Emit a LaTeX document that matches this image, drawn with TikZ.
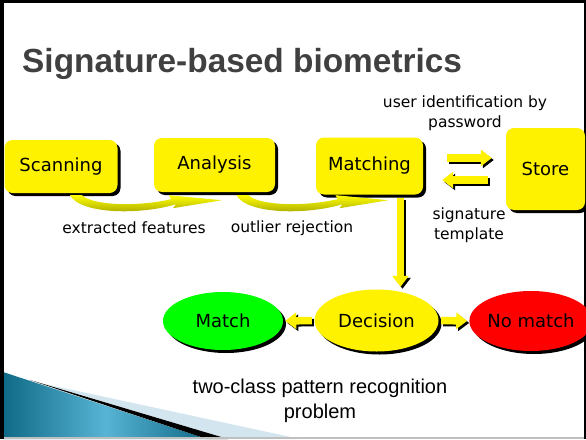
\documentclass[tikz,border=0pt]{standalone}
\usepackage{fontspec}
\setmainfont{DejaVu Sans}
\newfontfamily\arialfont{Liberation Sans}
\usetikzlibrary{calc,shadows,arrows.meta,shapes.geometric}
\definecolor{slidegray}{HTML}{404040}
\definecolor{tealdark}{HTML}{0E6A86}
\definecolor{teallight}{HTML}{58B4D4}
\definecolor{paleblue}{HTML}{D3E6EF}
\definecolor{crescentdark}{HTML}{A0A000}
\tikzset{
  stagebox/.style={rounded corners=8pt, fill=yellow, inner sep=0pt,
    font=\fontsize{18}{20}\selectfont,
    drop shadow={shadow xshift=3pt, shadow yshift=-3pt, opacity=1, fill=black}},
  outcome/.style={ellipse, inner sep=0pt, font=\fontsize{18}{20}\selectfont,
    drop shadow={shadow xshift=3pt, shadow yshift=-3pt, opacity=1, fill=black}},
  blockarr/.style={line width=7.5pt, yellow, -{Triangle[width=16pt,length=11pt]}},
  blockshadow/.style={line width=7.5pt, black, -{Triangle[width=16pt,length=11pt]},
    transform canvas={xshift=2pt,yshift=-2pt}},
  note/.style={font=\fontsize{15.5}{20.5}\selectfont, align=center}
}
\newcommand\bendarrow[1]{%
  \shade[top color=yellow, bottom color=crescentdark, shift={(#1)}]
    (0,0) .. controls (10,19) and (70,20) .. (106,9) -- (103,13) -- (152,5)
    -- (99,0) -- (101,4) .. controls (66,12) and (22,10) .. (12,0) -- cycle;}

\begin{document}
\begin{tikzpicture}[x=1pt, y=-1pt]
		%%%%% FRAME %%%%%
		\useasboundingbox (0,0) rectangle (586,439);
		\fill[white] (0,0) rectangle (586,439);
		
		\shade[left color=tealdark, right color=tealdark, middle color=teallight] (3,372) -- (207,439) -- (3,439) -- cycle;
		\fill[paleblue] (45,384) -- (300,439) -- (228,439) -- cycle;
		\fill[black] (30,380) -- (228,439) -- (207,439) -- cycle;
		\draw[black!25, line width=2pt] (0,438) -- (586,438);
		
		\draw[line width=3.5pt] (1.75,439) -- (1.75,1.5) -- (585,1.5);
		\draw[line width=2pt] (585,0) -- (585,439);
		
		\node[anchor=base west, inner sep=0pt, text=slidegray,
		  font=\arialfont\bfseries\fontsize{33.4}{36}\selectfont] (title) at (22,72) {Signature-based biometrics};
		
		%%%%% STAGES %%%%%
		\node[stagebox, minimum width=113pt, minimum height=53pt] (scan) at (61,166.5) {Scanning};
		\node[stagebox, minimum width=121pt, minimum height=54pt] (analysis) at (214.5,165) {Analysis};
		\node[stagebox, minimum width=107pt, minimum height=57pt] (matching) at (369.5,166) {Matching};
		\node[stagebox, minimum width=79pt, minimum height=82pt] (store) at (545.5,169) {Store};
		
		\bendarrow{$(scan.south)+(9,2)$}
		\bendarrow{$(analysis.south)+(22,3)$}
		
		\node[note] (features) at (134,228) {extracted features};
		\node[note] (outlier) at (292,228) {outlier rejection};
		\node[note] (userid) at (465,113) {user identification by\\password};
		\node[note] (template) at (469,225) {signature\\template};
		
		\draw[blockshadow, shorten <=24pt, shorten >=14pt] ([yshift=8pt]matching.east) -- ([yshift=8pt]matching.east -| store.west);
		\draw[blockarr, shorten <=24pt, shorten >=14pt] ([yshift=8pt]matching.east) -- ([yshift=8pt]matching.east -| store.west);
		\draw[blockshadow, shorten <=18pt, shorten >=19pt] ([yshift=-14pt]matching.east -| store.west) -- ([yshift=-14pt]matching.east);
		\draw[blockarr, shorten <=18pt, shorten >=19pt] ([yshift=-14pt]matching.east -| store.west) -- ([yshift=-14pt]matching.east);
		
		%%%%% DECISION %%%%%
		\node[outcome, fill=green, minimum width=120pt, minimum height=58pt] (match) at (223,321) {Match};
		\node[outcome, fill=yellow, minimum width=124pt, minimum height=62pt] (decision) at (376.5,320.5) {Decision};
		\node[outcome, fill=red, minimum width=120pt, minimum height=60pt] (nomatch) at (531,321) {No match};
		
		\draw[blockshadow, shorten <=3pt, shorten >=2.5pt] ([xshift=31pt]matching.south) -- ([xshift=31pt]matching.south |- decision.north);
		\draw[blockarr, shorten <=3pt, shorten >=2.5pt] ([xshift=31pt]matching.south) -- ([xshift=31pt]matching.south |- decision.north);
		\draw[blockshadow, shorten <=2.5pt, shorten >=2pt] (decision.west) -- (match.east);
		\draw[blockarr, shorten <=2.5pt, shorten >=2pt] (decision.west) -- (match.east);
		\draw[blockshadow, shorten <=2.5pt, shorten >=2pt] (decision.east) -- (nomatch.west);
		\draw[blockarr, shorten <=2.5pt, shorten >=2pt] (decision.east) -- (nomatch.west);
		
		\node[font=\arialfont\fontsize{20}{25}\selectfont, align=center] (caption) at (320,401) {two-class pattern recognition\\problem};
		
		%%%%% END %%%%%
\end{tikzpicture}
\end{document}
